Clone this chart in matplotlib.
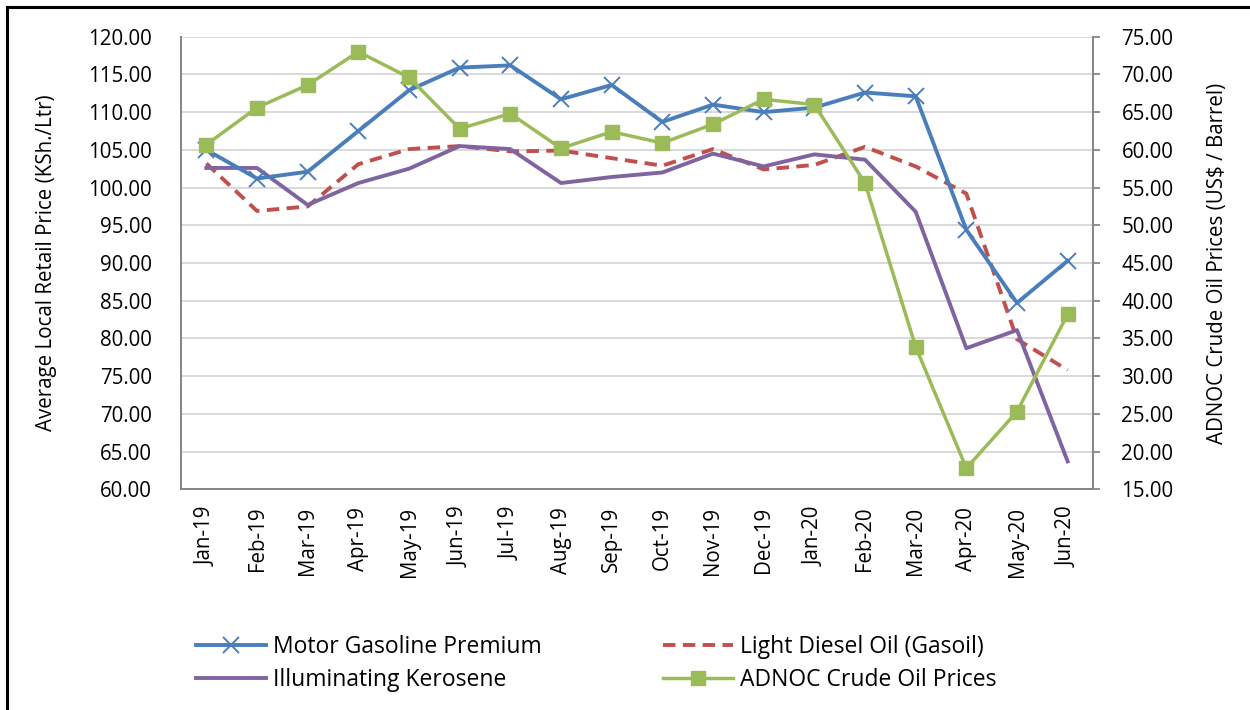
import numpy as np
import matplotlib
matplotlib.use("Agg")
import matplotlib.pyplot as plt
from matplotlib.patches import Rectangle

# ==========================================
# DATA
# ==========================================
months = ["Jan-19", "Feb-19", "Mar-19", "Apr-19", "May-19", "Jun-19", "Jul-19",
          "Aug-19", "Sep-19", "Oct-19", "Nov-19", "Dec-19", "Jan-20", "Feb-20",
          "Mar-20", "Apr-20", "May-20", "Jun-20"]

gasoline = [105.0, 101.2, 102.1, 107.5, 112.9, 115.9, 116.2, 111.7, 113.6, 108.7,
            111.0, 110.0, 110.6, 112.6, 112.1, 94.4, 84.7, 90.3]
diesel = [103.2, 96.9, 97.5, 103.1, 105.1, 105.5, 104.8, 104.9, 103.9, 102.9,
          105.1, 102.4, 103.0, 105.4, 102.8, 99.2, 79.9, 75.8]
kerosene = [102.6, 102.6, 97.7, 100.6, 102.5, 105.5, 105.1, 100.6, 101.4, 102.0,
            104.5, 102.8, 104.4, 103.7, 96.8, 78.7, 81.1, 63.7]
adnoc = [60.7, 65.6, 68.6, 73.0, 69.6, 62.8, 64.8, 60.2, 62.4, 60.9,
         63.4, 66.7, 66.0, 55.6, 33.9, 17.8, 25.3, 38.2]

left_ticks = np.arange(60, 121, 5)
right_ticks = np.arange(15, 76, 5)

BLUE = '#4a7ebb'
RED = '#c0504d'
PURPLE = '#8064a2'
GREEN = '#9bbb59'
FONT = 'Open Sans'
FS = 14.8

plt.rcParams['font.family'] = [FONT, 'DejaVu Sans']

fig = plt.figure(figsize=(12.5, 7.1), dpi=100)
W, H = 1250, 710
ax = fig.add_axes([181 / W, 1 - 489.3 / H, 912 / W, (489.3 - 36.7) / H])
ax2 = ax.twinx()

x = np.arange(len(months))

l1, = ax.plot(x, gasoline, color=BLUE, lw=2.8, marker='x', markersize=11,
              markeredgewidth=1.4, label='Motor Gasoline Premium', zorder=4)
l2, = ax.plot(x, diesel, color=RED, lw=2.8, dashes=(3.2, 1.9),
              label='Light Diesel Oil (Gasoil)', zorder=3)
l3, = ax.plot(x, kerosene, color=PURPLE, lw=2.8, label='Illuminating Kerosene', zorder=3)
l4, = ax2.plot(x, adnoc, color=GREEN, lw=2.5, marker='s', markersize=10,
               label='ADNOC Crude Oil Prices', zorder=4)

ax.set_ylim(60, 120)
ax2.set_ylim(15, 75)
ax.set_xlim(-0.5, len(months) - 0.5)
ax.set_yticks(left_ticks)
ax.set_yticklabels([f"{v:.2f}" for v in left_ticks])
ax2.set_yticks(right_ticks)
ax2.set_yticklabels([f"{v:.2f}" for v in right_ticks])
ax.set_xticks(x)
ax.set_xticklabels(months, rotation=90)

ax.grid(axis='y', color='#d9d9d9', lw=1.4)
ax.set_axisbelow(True)

for a in (ax, ax2):
    a.spines['top'].set_visible(False)
    for s in ('left', 'right', 'bottom'):
        a.spines[s].set_color('#868686')
        a.spines[s].set_linewidth(1.3)

ax.tick_params(axis='y', length=0, pad=21, labelsize=FS)
ax.tick_params(axis='x', length=0, pad=12.5, labelsize=FS)
ax2.tick_params(axis='y', length=5, width=1.3, color='#868686', pad=15.5, labelsize=FS)

fig.text(47 / W, 1 - 263 / H, 'Average Local Retail Price (KSh./Ltr)', rotation=90,
         ha='center', va='center', fontsize=FS)
fig.text(1217 / W, 1 - 263 / H, 'ADNOC Crude Oil Prices (US$ / Barrel)', rotation=90,
         ha='center', va='center', fontsize=FS)

# legend fills column-wise, so order handles to get the reference rows
fig.legend([l1, l3, l2, l4],
           [l1.get_label(), l3.get_label(), l2.get_label(), l4.get_label()],
           loc='center left', bbox_to_anchor=(196 / W, 1 - 663.5 / H), ncol=2,
           frameon=False, fontsize=16.5, handlelength=3.05, handletextpad=0.3,
           columnspacing=5.3, labelspacing=0.42, borderpad=0, borderaxespad=0)

# outer border (cut off on right and bottom like the source)
fig.add_artist(Rectangle((7 / W, -0.1), 1.2, 1.1 - 7 / H, transform=fig.transFigure,
                         fill=False, edgecolor='black', lw=2.2, clip_on=False))

fig.savefig('out.png', dpi=100)
